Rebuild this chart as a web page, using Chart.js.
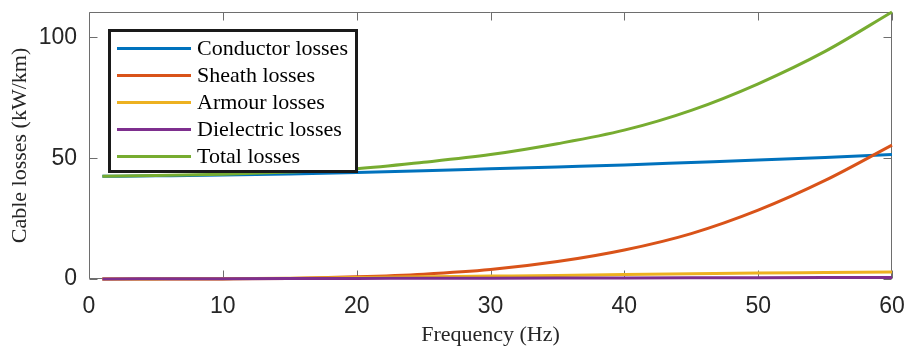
<!DOCTYPE html>
<html><head><meta charset="utf-8">
<script src="https://cdn.jsdelivr.net/npm/chart.js@4.4.1/dist/chart.umd.min.js"></script>
<style>html,body{margin:0;padding:0;background:#fff;}canvas{display:block;}</style>
</head><body>
<canvas id="c" width="909" height="348"></canvas>
<script>
// ---- data ----
const frequency       = [1, 5, 10, 15, 20, 25, 30, 35, 40, 45, 50, 55, 60];
const conductorLosses = [42.5, 42.7, 43.0, 43.5, 44.1, 44.8, 45.6, 46.4, 47.2, 48.2, 49.2, 50.3, 51.5];
const sheathLosses    = [0, 0, 0.05, 0.25, 0.9, 2.0, 3.9, 7.2, 12.0, 18.8, 28.5, 40.8, 55.4];
const armourLosses    = [0, 0.05, 0.15, 0.35, 0.6, 0.9, 1.2, 1.5, 1.9, 2.2, 2.5, 2.7, 2.9];
const dielectricLosses= [0.02, 0.08, 0.15, 0.2, 0.25, 0.3, 0.35, 0.4, 0.45, 0.5, 0.55, 0.6, 0.65];
const totalLosses     = [42.5, 42.8, 43.4, 44.3, 45.6, 48.3, 51.5, 56.0, 61.6, 69.8, 80.8, 94.2, 110.5];
const seriesNames  = ['Conductor losses', 'Sheath losses', 'Armour losses', 'Dielectric losses', 'Total losses'];
const seriesColors = ['#0072BD', '#D95319', '#EDB120', '#7E2F8E', '#77AC30'];
const xTicks = [0, 10, 20, 30, 40, 50, 60];
const yTicks = [0, 50, 100];
const xTitle = 'Frequency (Hz)';
const yTitle = 'Cable losses (kW/km)';

const seriesValues = [conductorLosses, sheathLosses, armourLosses, dielectricLosses, totalLosses];
const datasets = seriesValues.map((vals, i) => ({
  label: seriesNames[i],
  data: frequency.map((f, k) => ({x: f, y: vals[k]})),
  borderColor: seriesColors[i],
  backgroundColor: seriesColors[i],
  borderWidth: 3,
  pointRadius: 0,
  cubicInterpolationMode: 'monotone',
  fill: false,
  clip: 4,
  order: seriesValues.length - 1 - i
}));

const AXIS_COLOR = '#6e6e6e';
const TICK_LEN = 8;

const boxPlugin = {
  id: 'matlabBox',
  beforeDatasetsDraw(chart) {
    const {ctx, chartArea: a, scales: {x, y}} = chart;
    ctx.save();
    ctx.strokeStyle = AXIS_COLOR;
    ctx.lineWidth = 1;
    const L = Math.round(a.left) + 0.5, R = Math.round(a.right) - 0.5;
    const T = Math.round(a.top) + 0.5, B = Math.round(a.bottom) - 0.5;
    ctx.beginPath();
    ctx.rect(L, T, R - L, B - T);
    xTicks.forEach(v => {
      const px = Math.round(x.getPixelForValue(v)) + 0.5;
      ctx.moveTo(px, B); ctx.lineTo(px, B - TICK_LEN);
      ctx.moveTo(px, T); ctx.lineTo(px, T + TICK_LEN);
    });
    yTicks.forEach(v => {
      const py = Math.round(y.getPixelForValue(v)) + 0.5;
      ctx.moveTo(L, py); ctx.lineTo(L + TICK_LEN, py);
      ctx.moveTo(R, py); ctx.lineTo(R - TICK_LEN, py);
    });
    ctx.stroke();
    ctx.restore();
  }
};

const legendPlugin = {
  id: 'insideLegend',
  afterDatasetsDraw(chart) {
    const {ctx} = chart;
    const box = {left: 109.5, top: 30.5, width: 247, height: 141};
    ctx.save();
    ctx.fillStyle = '#ffffff';
    ctx.fillRect(box.left, box.top, box.width, box.height);
    ctx.lineWidth = 3;
    ctx.strokeStyle = '#1a1a1a';
    ctx.strokeRect(box.left, box.top, box.width, box.height);
    ctx.font = '22px "Liberation Serif", "Times New Roman", serif';
    ctx.textBaseline = 'middle';
    ctx.textAlign = 'left';
    chart.data.datasets.forEach((ds, i) => {
      const yy = 48.5 + i * 27;
      ctx.strokeStyle = ds.borderColor;
      ctx.lineWidth = 3;
      ctx.beginPath();
      ctx.moveTo(117, yy); ctx.lineTo(191, yy);
      ctx.stroke();
      ctx.fillStyle = '#000000';
      ctx.fillText(ds.label, 197, yy + 1);
    });
    ctx.restore();
  }
};

new Chart(document.getElementById('c'), {
  type: 'line',
  data: {datasets},
  options: {
    responsive: false,
    animation: false,
    events: [],
    layout: {padding: {left: 0, right: 17, top: 12, bottom: 0}},
    plugins: {legend: {display: false}, tooltip: {enabled: false}},
    scales: {
      x: {
        type: 'linear', min: 0, max: 60,
        grid: {display: false, drawTicks: false},
        border: {display: false},
        ticks: {stepSize: 10, padding: 14, color: '#262626', maxRotation: 0,
          font: {family: '"Liberation Sans", Arial, sans-serif', size: 23}},
        afterBuildTicks: s => { s.ticks = xTicks.map(v => ({value: v})); },
        afterFit: s => { s.height = 69; s.paddingLeft = 0; s.paddingRight = 0; },
        title: {display: true, text: xTitle, color: '#262626', padding: {top: 0, bottom: 0},
          font: {family: '"Liberation Serif", "Times New Roman", serif', size: 22}}
      },
      y: {
        type: 'linear', min: 0, max: 110.5,
        grid: {display: false, drawTicks: false},
        border: {display: false},
        ticks: {padding: 12, color: '#262626',
          font: {family: '"Liberation Sans", Arial, sans-serif', size: 23}},
        afterBuildTicks: s => { s.ticks = yTicks.map(v => ({value: v})); },
        afterFit: s => { s.width = 89; s.paddingTop = 0; s.paddingBottom = 0; },
        title: {display: true, text: yTitle, color: '#262626', padding: {top: 7, bottom: 0},
          font: {family: '"Liberation Serif", "Times New Roman", serif', size: 22}}
      }
    }
  },
  plugins: [boxPlugin, legendPlugin]
});
</script>
</body></html>
